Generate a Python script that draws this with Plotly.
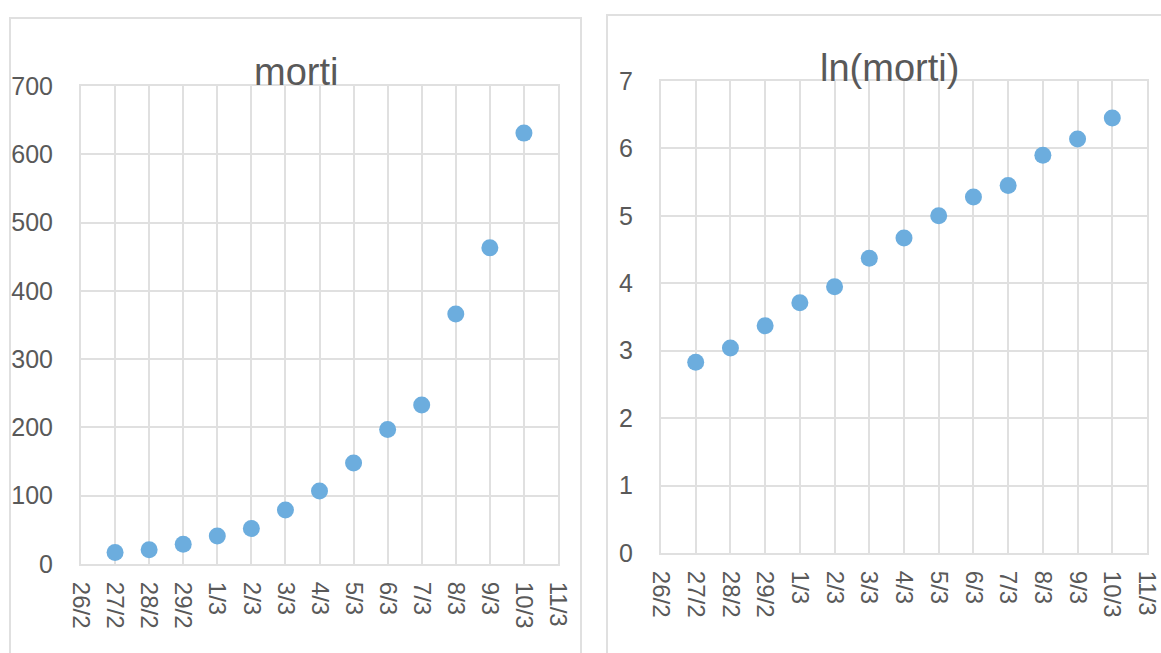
import plotly.graph_objects as go

# Data
date_labels = ["26/2", "27/2", "28/2", "29/2", "1/3", "2/3", "3/3", "4/3",
               "5/3", "6/3", "7/3", "8/3", "9/3", "10/3", "11/3"]
point_dates = ["27/2", "28/2", "29/2", "1/3", "2/3", "3/3", "4/3",
               "5/3", "6/3", "7/3", "8/3", "9/3", "10/3"]
morti = [17, 21, 29, 41, 52, 79, 107, 148, 197, 233, 366, 463, 631]
ln_morti = [2.83, 3.04, 3.37, 3.71, 3.95, 4.37, 4.67, 5.00, 5.28, 5.45, 5.90, 6.14, 6.45]
y1_ticks = [0, 100, 200, 300, 400, 500, 600, 700]
y2_ticks = [0, 1, 2, 3, 4, 5, 6, 7]

W, H = 1161, 653
def px(x): return x / W
def py(y): return 1 - y / H

x_idx = list(range(len(date_labels)))
pt_idx = [date_labels.index(d) for d in point_dates]

FONT = "Liberation Sans, Arial, sans-serif"
GRID = "#E0E0E0"
TXT = "#595959"
MARK = "#6CADDE"

fig = go.Figure()
fig.add_trace(go.Scatter(x=pt_idx, y=morti, mode="markers",
                         marker=dict(color=MARK, size=17), xaxis="x", yaxis="y",
                         showlegend=False))
fig.add_trace(go.Scatter(x=pt_idx, y=ln_morti, mode="markers",
                         marker=dict(color=MARK, size=17), xaxis="x2", yaxis="y2",
                         showlegend=False))

xcommon = dict(tickmode="array", tickvals=x_idx, ticktext=date_labels,
               tickangle=90, showgrid=True, gridcolor=GRID, gridwidth=2,
               showline=True, linecolor=GRID, linewidth=2, mirror=True,
               zeroline=False, ticks="", ticklabelstandoff=11, automargin=False,
               ticklabeloverflow="allow",
               tickfont=dict(family=FONT, size=24, color=TXT),
               range=[0, 14], fixedrange=True)
ycommon = dict(tickmode="array", showgrid=True, gridcolor=GRID, gridwidth=2,
               showline=True, linecolor=GRID, linewidth=2, mirror=True,
               zeroline=False, ticks="", ticklabelstandoff=21, automargin=False,
               ticklabeloverflow="allow",
               tickfont=dict(family=FONT, size=25, color=TXT), fixedrange=True)

fig.update_layout(
    width=W, height=H,
    margin=dict(l=0, r=0, t=0, b=0),
    paper_bgcolor="white", plot_bgcolor="white",
    xaxis=dict(domain=[px(81), px(558)], anchor="y", **xcommon),
    yaxis=dict(domain=[py(564), py(86)], anchor="x", tickvals=y1_ticks,
               range=[0, 700], **ycommon),
    xaxis2=dict(domain=[px(661), px(1147)], anchor="y2", **xcommon),
    yaxis2=dict(domain=[py(553), py(81)], anchor="x2", tickvals=y2_ticks,
                range=[0, 7], **ycommon),
    shapes=[
        dict(type="rect", xref="paper", yref="paper", x0=px(10), x1=px(581),
             y0=py(670), y1=py(18), line=dict(color=GRID, width=2)),
        dict(type="rect", xref="paper", yref="paper", x0=px(607), x1=px(1175),
             y0=py(670), y1=py(15), line=dict(color=GRID, width=2)),
    ],
    annotations=[
        dict(text="morti", xref="paper", yref="paper", x=px(296), y=py(72),
             xanchor="center", yanchor="middle", showarrow=False,
             font=dict(family=FONT, size=38, color=TXT)),
        dict(text="ln(morti)", xref="paper", yref="paper", x=px(889), y=py(68),
             xanchor="center", yanchor="middle", showarrow=False,
             font=dict(family=FONT, size=38, color=TXT)),
    ],
)

fig.write_html(
    "out.html",
    config={"displayModeBar": False, "staticPlot": True},
    post_script="document.body.style.margin='0';document.body.style.overflow='hidden';",
)
